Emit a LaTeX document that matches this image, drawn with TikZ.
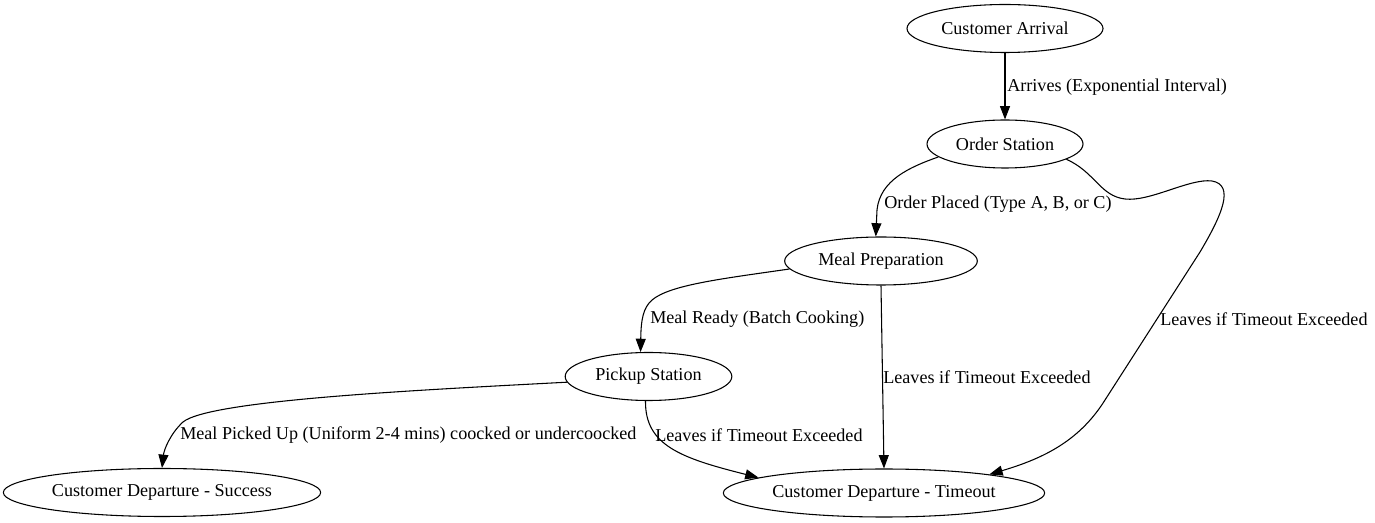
\documentclass[tikz,border=0pt]{standalone}
\usepackage{fontspec}
\setmainfont{Liberation Serif}
\usetikzlibrary{arrows.meta,shapes.geometric}
\begin{document}
\begin{tikzpicture}[x=0.75pt,y=-0.75pt,
  every node/.style={font=\fontsize{13.6pt}{16pt}\selectfont},
  state/.style={draw,ellipse,line width=0.8pt,inner sep=0pt,minimum height=36pt},
  lbl/.style={anchor=west,inner sep=0pt},
  edge/.style={line width=0.8pt,-{Triangle[length=10pt,width=7.5pt]}}]
\useasboundingbox (0,0) rectangle (1375,523);
% nodes
\node[state,minimum width=147pt] (arr) at (1005,28.5) {Customer Arrival};
\node[state,minimum width=117pt] (ord) at (1005,144) {Order Station};
\node[state,minimum width=144.5pt] (meal) at (881,261) {Meal Preparation};
\node[state,minimum width=125pt] (pk) at (648.5,376.5) {Pickup Station};
\node[state,minimum width=238pt] (suc) at (162,492.5) {Customer Departure - Success};
\node[state,minimum width=241pt] (tmo) at (884,493) {Customer Departure - Timeout};
% edges
\draw[edge] (arr) -- (ord);
\draw[edge] (ord.191) .. controls (910,167) and (880,180) .. (877,210) -- (meal.102);
\draw[edge] (ord.346) .. controls (1095,172) and (1100,196) .. (1125,199)
  .. controls (1150,202) and (1190,178) .. (1212,181)
  .. controls (1235,185) and (1222,215) .. (1200,252)
  -- (1105,400)
  .. controls (1080,440) and (1045,458) .. (tmo.10);
\draw[edge] (meal.185) .. controls (720,279) and (670,285) .. (652,300)
  .. controls (643,308) and (641,320) .. (pk.108);
\draw[edge] (meal.south) -- (tmo.north);
\draw[edge] (pk.184) .. controls (420,390) and (210,400) .. (183,422)
  .. controls (170,434) and (164,450) .. (suc.north);
\draw[edge] (pk.263) .. controls (645,445) and (680,458) .. (tmo.173);
% labels
\node[lbl] (l1) at (1007,87) {Arrives (Exponential Interval)};
\node[lbl] (l2) at (884,204) {Order Placed (Type A, B, or C)};
\node[lbl] (l3) at (650,319.5) {Meal Ready (Batch Cooking)};
\node[lbl] (l4) at (1160,319.5) {Leaves if Timeout Exceeded};
\node[lbl] (l5) at (883,377.5) {Leaves if Timeout Exceeded};
\node[lbl] (l6) at (180,435.5) {Meal Picked Up (Uniform 2-4 mins) coocked or undercoocked};
\node[lbl] (l7) at (655,435.5) {Leaves if Timeout Exceeded};
\end{tikzpicture}
\end{document}
